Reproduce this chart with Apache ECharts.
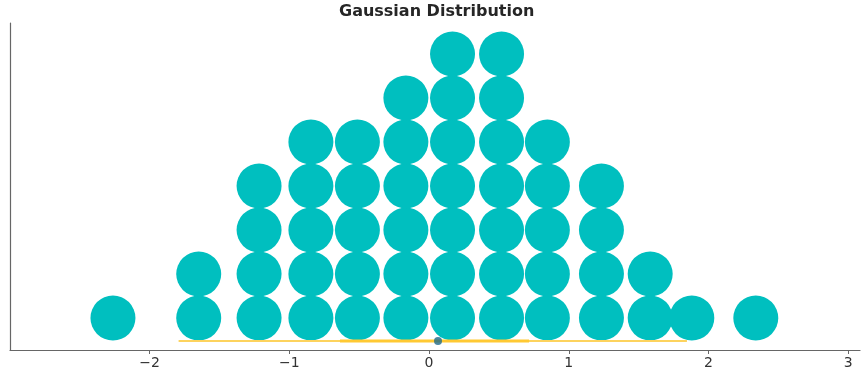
<!DOCTYPE html>
<html>
<head>
<meta charset="utf-8">
<script src="https://cdn.jsdelivr.net/npm/echarts@6/dist/echarts.min.js"></script>
<style>html,body{margin:0;padding:0;background:#fff}#c{width:862px;height:375px}</style>
</head>
<body>
<div id="c"></div>
<script>
// Column positions (x value of each stack) and number of dots stacked in each
var binCenters = [-2.263, -1.649, -1.217, -0.846, -0.513, -0.166, 0.168, 0.519, 0.847, 1.234, 1.583, 1.881, 2.339];
var binCounts  = [1, 2, 4, 5, 5, 6, 7, 7, 5, 4, 2, 1, 1];
// Box plot summary along the bottom
var whiskerRange = [-1.793, 1.846];
var boxRange = [-0.638, 0.716];
var medianValue = 0.064;
var xTickValues = [-2, -1, 0, 1, 2, 3];
var boxLevel = 0.477;

var dots = [];
binCenters.forEach(function (x, i) {
  for (var k = 1; k <= binCounts[i]; k++) dots.push([x, k]);
});

var chart = echarts.init(document.getElementById('c'), null, {renderer: 'canvas'});
chart.setOption({
  animation: false,
  title: {
    text: 'Gaussian Distribution',
    left: 334, top: -1,
    textStyle: {fontFamily: 'DejaVu Sans', fontWeight: 'bold', fontSize: 16, color: '#262626'}
  },
  grid: {left: 10, right: 2, top: 23, bottom: 25, containLabel: false},
  xAxis: {
    type: 'value', min: -3, max: 3.085, interval: 1,
    axisLine: {show: true, onZero: false, lineStyle: {color: '#666', width: 1.2}},
    axisTick: {show: true, length: 4, customValues: xTickValues, lineStyle: {color: '#666'}},
    axisLabel: {
      customValues: xTickValues, margin: 6,
      fontFamily: 'DejaVu Sans', fontSize: 14, color: '#333',
      formatter: function (v) { return v < 0 ? '\u2212' + Math.abs(v) : String(v); }
    },
    splitLine: {show: false}
  },
  yAxis: {
    type: 'value', min: 0.2727, max: 7.705,
    axisLine: {show: true, onZero: false, lineStyle: {color: '#666', width: 1.2}},
    axisTick: {show: false}, axisLabel: {show: false}, splitLine: {show: false}
  },
  series: [
    {
      type: 'scatter', data: dots, symbol: 'circle', symbolSize: 45,
      itemStyle: {color: '#00BFBF', opacity: 1}, silent: true, z: 2
    },
    {
      type: 'line', data: [[whiskerRange[0], boxLevel], [whiskerRange[1], boxLevel]],
      symbol: 'none', lineStyle: {color: '#FDD35E', width: 1.8}, silent: true, z: 3
    },
    {
      type: 'line', data: [[boxRange[0], boxLevel], [boxRange[1], boxLevel]],
      symbol: 'none', lineStyle: {color: '#FFC933', width: 3.2}, silent: true, z: 4
    },
    {
      type: 'scatter', data: [[medianValue, boxLevel]], symbol: 'circle', symbolSize: 8,
      itemStyle: {color: '#1F6A8A'}, silent: true, z: 5
    }
  ]
});
</script>
</body>
</html>
